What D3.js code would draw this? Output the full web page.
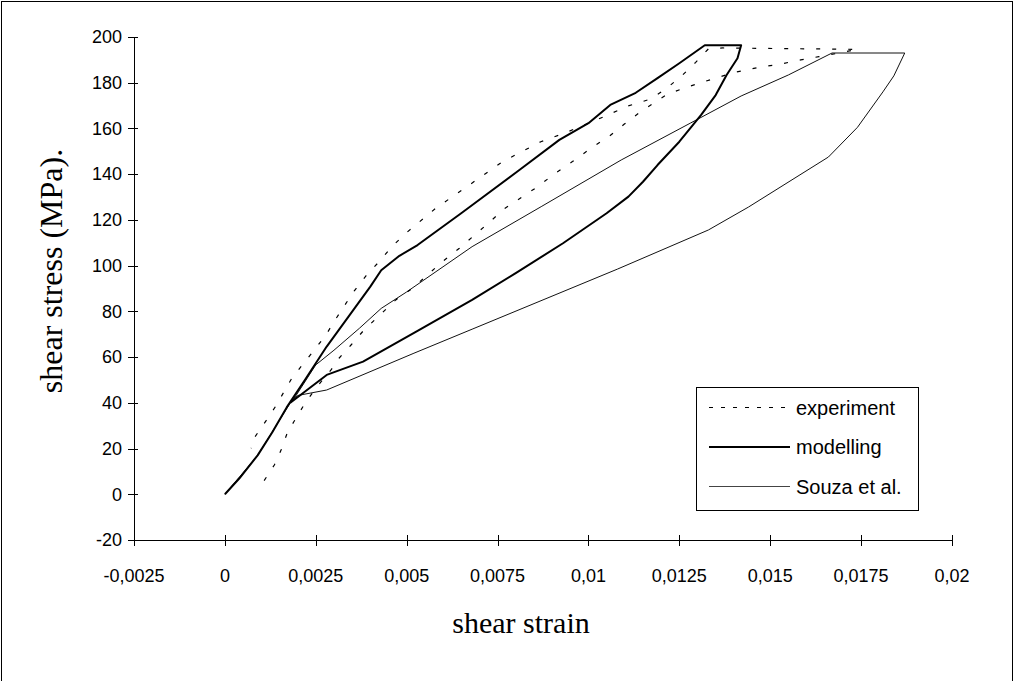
<!DOCTYPE html>
<html lang="en">
  <head>
    <meta charset="UTF-8" />
    <title>Shear stress vs shear strain</title>
    <script src="https://d3js.org/d3.v7.min.js"></script>
    <style>
      body {
        margin: 0;
        background: #fff;
      }
      .tick-label {
        font-family: "Liberation Sans", Arial, sans-serif;
        font-size: 18px;
        fill: #000;
      }
      .axis-title {
        font-family: "Liberation Serif", "Times New Roman", serif;
        font-size: 30px;
        fill: #000;
      }
      .legend-text {
        font-family: "Liberation Sans", Arial, sans-serif;
        font-size: 20px;
        fill: #000;
      }
    </style>
  </head>
  <body>
    <div id="chart"></div>

    <script>
      // tick values
      const xTicks = [-0.0025, 0, 0.0025, 0.005, 0.0075, 0.01, 0.0125, 0.015, 0.0175, 0.02];
      const xTickLabels = ["-0,0025", "0", "0,0025", "0,005", "0,0075", "0,01", "0,0125", "0,015", "0,0175", "0,02"];
      const yTicks = [-20, 0, 20, 40, 60, 80, 100, 120, 140, 160, 180, 200];

      // experiment (dashed): loading branch, top, unloading branch
      const expStrain = [
        0.00108, 0.00136, 0.00154, 0.00172, 0.0019, 0.00221, 0.00255, 0.00292, 0.00314, 0.00347,
        0.00383, 0.0047, 0.00516, 0.00557, 0.00598, 0.00645, 0.00684, 0.00722, 0.00768, 0.00816,
        0.0086, 0.00906, 0.00956, 0.01011, 0.01057, 0.01098, 0.0114, 0.01217, 0.01277, 0.01341,
        0.01401, 0.01465, 0.01529, 0.01584, 0.01634, 0.0169, 0.0174, 0.0137, 0.0133, 0.01295,
        0.01259, 0.01217, 0.01172, 0.01108, 0.01053, 0.01007, 0.00933, 0.00869, 0.00764, 0.00668,
        0.0058, 0.00498, 0.00461, 0.00424, 0.00388, 0.00356, 0.00333, 0.00303, 0.00278, 0.00246,
        0.00218, 0.00184, 0.0014, 0.00113, 0.00083, 0.00072,
      ];
      const expStress = [
        6, 12.8, 19.1, 27, 31.8, 40, 47.4, 54.4, 59.5, 65.3,
        71.9, 85, 90.1, 95.9, 101.7, 107.6, 113, 118.2, 124.8, 129.9,
        134.5, 140.1, 145.5, 151.8, 156.6, 161.8, 166.9, 175, 178.4, 181.6,
        184.5, 186.6, 188.2, 190, 191.4, 193, 194.6, 195.2, 194.8, 188.9,
        183.4, 177.8, 172.9, 169.8, 165.9, 162.7, 157.9, 154.2, 145.5, 134.8,
        125.1, 114.2, 108.6, 101.7, 95.5, 89, 83.5, 76.2, 69.7, 63.1,
        57.6, 50.7, 38.6, 32.1, 25.2, 20.1,
      ];

      // modelling (thick)
      const modStrain = [
        0, 0.0004, 0.0009, 0.0013, 0.0017, 0.0022, 0.0028, 0.0034, 0.004, 0.0043,
        0.0048, 0.0053, 0.0065, 0.0081, 0.0092, 0.01, 0.0106, 0.0113, 0.0119, 0.0125,
        0.0132, 0.0142, 0.0141, 0.0138, 0.0135, 0.0131, 0.0125, 0.0119, 0.0115, 0.0111,
        0.0105, 0.0093, 0.008, 0.0068, 0.0053, 0.0038, 0.0028, 0.0018,
      ];
      const modStress = [
        0, 7, 17, 27, 38, 50, 64.6, 77.7, 90.8, 98,
        104.3, 109, 122.9, 141.8, 155, 162.3, 170.3, 175.6, 182, 188.5,
        196.4, 196.4, 190.7, 183.4, 174.6, 165.9, 154.2, 144, 136.7, 130.2,
        122.9, 109.8, 96.7, 85, 71.5, 58, 52.2, 40,
      ];

      // Souza et al. (thin)
      const souzaStrain = [
        0, 0.0009, 0.0018, 0.00195, 0.0025, 0.003, 0.0037, 0.0043, 0.005, 0.0068,
        0.0087, 0.0109, 0.0128, 0.0142, 0.0155, 0.0167, 0.0187, 0.0184, 0.0181, 0.0174,
        0.0166, 0.0144, 0.0133, 0.0108, 0.0068, 0.0052, 0.0028, 0.002, 0.0018,
      ];
      const souzaStress = [
        0, 17, 40, 43, 56.6, 63, 72.6, 81.3, 88.5, 108.3,
        125.8, 146.2, 162.3, 174.2, 183.4, 193, 193, 183, 176, 160.5,
        147.5, 125.6, 115.6, 98.5, 72.2, 61.7, 45.6, 43.2, 40,
      ];

      const width = 1016;
      const height = 681;

      const svg = d3
        .select("#chart")
        .append("svg")
        .attr("width", width)
        .attr("height", height);

      // outer frame
      svg
        .append("rect")
        .attr("x", 1.5)
        .attr("y", 1.5)
        .attr("width", 1011)
        .attr("height", 690)
        .attr("fill", "none")
        .attr("stroke", "#000")
        .attr("stroke-width", 1);

      const x = d3.scaleLinear().domain([-0.0025, 0.02]).range([134, 952]);
      const y = d3.scaleLinear().domain([-20, 200]).range([540, 37]);

      // y axis
      svg
        .append("line")
        .attr("x1", x(-0.0025) + 0.5)
        .attr("x2", x(-0.0025) + 0.5)
        .attr("y1", y(200))
        .attr("y2", y(-20))
        .attr("stroke", "#000");

      svg
        .selectAll(".ytick")
        .data(yTicks)
        .enter()
        .append("line")
        .attr("x1", x(-0.0025) - 6)
        .attr("x2", x(-0.0025) + 4)
        .attr("y1", (d) => Math.round(y(d)) + 0.5)
        .attr("y2", (d) => Math.round(y(d)) + 0.5)
        .attr("stroke", "#000");

      svg
        .selectAll(".ylabel")
        .data(yTicks)
        .enter()
        .append("text")
        .attr("class", "tick-label")
        .attr("x", x(-0.0025) - 12)
        .attr("y", (d) => y(d))
        .attr("dy", "0.35em")
        .attr("text-anchor", "end")
        .text((d) => d);

      // x axis
      svg
        .append("line")
        .attr("x1", x(-0.0025))
        .attr("x2", x(0.02))
        .attr("y1", y(-20) + 0.5)
        .attr("y2", y(-20) + 0.5)
        .attr("stroke", "#000");

      svg
        .selectAll(".xtick")
        .data(xTicks)
        .enter()
        .append("line")
        .attr("x1", (d) => Math.round(x(d)) + 0.5)
        .attr("x2", (d) => Math.round(x(d)) + 0.5)
        .attr("y1", y(-20) - 5)
        .attr("y2", y(-20) + 6)
        .attr("stroke", "#000");

      svg
        .selectAll(".xlabel")
        .data(xTicks)
        .enter()
        .append("text")
        .attr("class", "tick-label")
        .attr("x", (d) => x(d))
        .attr("y", y(-20) + 42)
        .attr("text-anchor", "middle")
        .text((d, i) => xTickLabels[i]);

      // axis titles
      svg
        .append("text")
        .attr("class", "axis-title")
        .attr("x", 521)
        .attr("y", 633)
        .attr("text-anchor", "middle")
        .text("shear strain");

      svg
        .append("text")
        .attr("class", "axis-title")
        .attr("transform", "translate(62, 271) rotate(-90)")
        .attr("text-anchor", "middle")
        .style("font-size", "32px")
        .text("shear stress (MPa).");

      // curves
      const line = d3
        .line()
        .x((d) => x(d[0]))
        .y((d) => y(d[1]));

      const zip = (a, b) => a.map((v, i) => [v, b[i]]);

      svg
        .append("path")
        .attr("d", line(zip(souzaStrain, souzaStress)))
        .attr("fill", "none")
        .attr("stroke", "#111")
        .attr("stroke-width", 1);

      svg
        .append("path")
        .attr("d", line(zip(expStrain, expStress)))
        .attr("fill", "none")
        .attr("stroke", "#000")
        .attr("stroke-width", 1.2)
        .attr("stroke-dasharray", "4,12");

      svg
        .append("path")
        .attr("d", line(zip(modStrain, modStress)))
        .attr("fill", "none")
        .attr("stroke", "#000")
        .attr("stroke-width", 2)
        .attr("stroke-linejoin", "round");

      // legend
      const legendData = [
        { label: "experiment", width: 1, dash: "4,8", stroke: "#000" },
        { label: "modelling", width: 2, dash: null, stroke: "#000" },
        { label: "Souza et al.", width: 1, dash: null, stroke: "#444" },
      ];

      const legend = svg.append("g").attr("class", "legend");

      legend
        .append("rect")
        .attr("x", 696.5)
        .attr("y", 387.5)
        .attr("width", 222)
        .attr("height", 123)
        .attr("fill", "#fff")
        .attr("stroke", "#000");

      const legendItems = legend
        .selectAll(".legend-item")
        .data(legendData)
        .enter()
        .append("g")
        .attr("class", "legend-item")
        .attr("transform", (d, i) => `translate(0, ${407.5 + i * 39.5})`);

      legendItems
        .append("line")
        .attr("x1", 709)
        .attr("x2", 790)
        .attr("stroke", (d) => d.stroke)
        .attr("stroke-width", (d) => d.width)
        .attr("stroke-dasharray", (d) => d.dash);

      legendItems
        .append("text")
        .attr("class", "legend-text")
        .attr("x", 796)
        .attr("dy", "0.35em")
        .text((d) => d.label);
    </script>
  </body>
</html>
